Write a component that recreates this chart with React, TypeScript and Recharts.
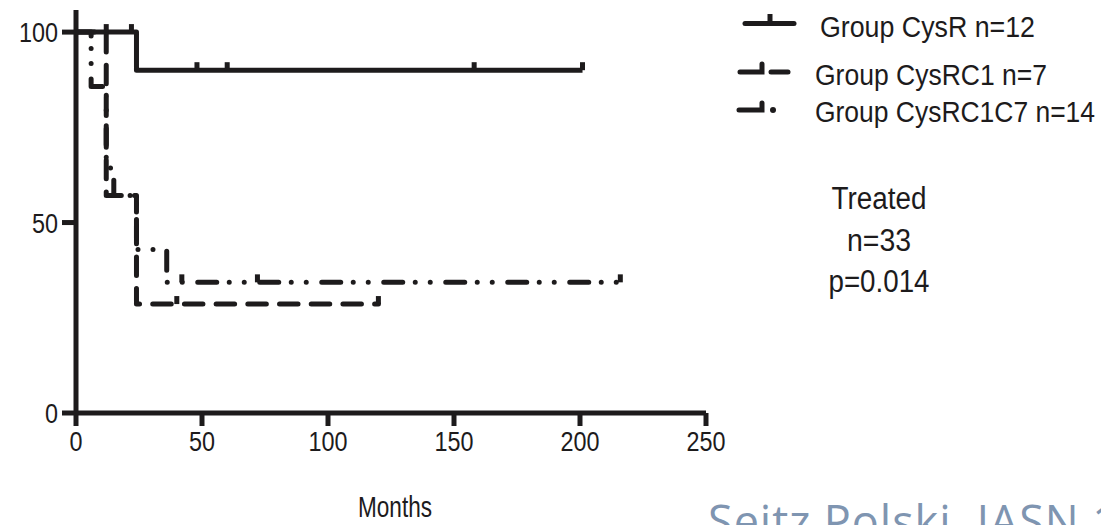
import React from 'react';
import { LineChart, Line, XAxis, YAxis, Legend } from 'recharts';

// ---- data ----
const xTicks = [0, 50, 100, 150, 200, 250];
const yTicks = [0, 50, 100];

const cysrTime = [0, 12, 22, 24, 48, 60, 158, 201];
const cysrSurv = [100, 100, 100, 90, 90, 90, 90, 90];
const cysrCens = [0, 1, 1, 0, 1, 1, 1, 1];

const rc1Time = [0, 12, 24, 40, 120];
const rc1Surv = [100, 57.1, 28.6, 28.6, 28.6];
const rc1Cens = [0, 0, 0, 1, 1];

const rc1c7Time = [0, 6, 12, 15, 24, 36, 42, 72, 216];
const rc1c7Surv = [100, 85.7, 64.3, 57.1, 42.9, 34.3, 34.3, 34.3, 34.3];
const rc1c7Cens = [0, 0, 0, 0, 0, 0, 1, 1, 1];

const seriesNames = ['Group CysR n=12', 'Group CysRC1 n=7', 'Group CysRC1C7 n=14'];
const annotationLines = ['Treated', 'n=33', 'p=0.014'];
const xLabel = 'Months';
const citation = 'Seitz Polski, JASN 1';

const build = (t: number[], s: number[], c: number[]) =>
  t.map((v, i) => ({ t: v, s: s[i], c: c[i] }));

const cysrData = build(cysrTime, cysrSurv, cysrCens);
const rc1Data = build(rc1Time, rc1Surv, rc1Cens);
const rc1c7Data = build(rc1c7Time, rc1c7Surv, rc1c7Cens);

const INK = '#1d1b1c';
const FONT = "'Liberation Sans', Arial, sans-serif";

// narrow-looking text (condensed via textLength)
const NText = ({ x, y, w, size, anchor = 'start', fill = INK, children }: any) => (
  <text
    x={x}
    y={y}
    fontFamily={FONT}
    fontSize={size}
    textAnchor={anchor}
    textLength={w}
    lengthAdjust="spacingAndGlyphs"
    fill={fill}
  >
    {children}
  </text>
);

const DIGIT_W = 13;

const XTick = (props: any) => {
  const { x, y, payload } = props;
  const s = String(payload.value);
  return <NText x={x} y={y + 20} w={s.length * DIGIT_W} size={28} anchor="middle">{s}</NText>;
};

const YTick = (props: any) => {
  const { x, y, payload } = props;
  const s = String(payload.value);
  return <NText x={x} y={y + 10} w={s.length * DIGIT_W} size={28} anchor="end">{s}</NText>;
};

const MonthsLabel = (props: any) => {
  const vb = props.viewBox || { x: 76, width: 630 };
  return <NText x={vb.x + vb.width / 2 + 4} y={517} w={74} size={30} anchor="middle">{xLabel}</NText>;
};

const censorDot = (prefix: string) => (props: any) => {
  const { cx, cy, payload, index } = props;
  if (!payload || !payload.c) return <g key={`${prefix}-${index}`} />;
  return (
    <line
      key={`${prefix}-${index}`}
      x1={cx}
      x2={cx}
      y1={cy}
      y2={cy - 8}
      stroke={INK}
      strokeWidth={5}
    />
  );
};

const legendWidths = [215, 232, 280];
const legendX = [820, 815, 815];
const legendY = [37, 85, 122];
const annoWidths = [95, 64, 101];

const LegendContent = () => (
  <svg width={1101} height={525} style={{ position: 'absolute', left: 0, top: 0 }}>
    {/* row 1 */}
    <line x1={745} x2={794} y1={23.5} y2={23.5} stroke={INK} strokeWidth={5} strokeLinecap="round" />
    <line x1={770} x2={770} y1={23.5} y2={14} stroke={INK} strokeWidth={5} />
    {/* row 2 */}
    <path d="M740,72 H762 V64" fill="none" stroke={INK} strokeWidth={5} strokeLinecap="round" />
    <line x1={771} x2={788} y1={72} y2={72} stroke={INK} strokeWidth={5} strokeLinecap="round" />
    {/* row 3 */}
    <path d="M739,110 H762 V103" fill="none" stroke={INK} strokeWidth={5} strokeLinecap="round" />
    <circle cx={773} cy={110} r={3} fill={INK} />
    {seriesNames.map((s, i) => (
      <NText key={s} x={legendX[i]} y={legendY[i]} w={legendWidths[i]} size={30}>{s}</NText>
    ))}
    {/* annotation */}
    {annotationLines.map((s, i) => (
      <NText key={s} x={879} y={209 + i * 41.5} w={annoWidths[i]} size={31} anchor="middle">{s}</NText>
    ))}
    <text
      x={708}
      y={538}
      fontFamily="'Open Sans', sans-serif"
      fontSize={45}
      textLength={410}
      lengthAdjust="spacing"
      fill="#7f95b1"
    >
      {citation}
    </text>
  </svg>
);

export default function App() {
  return (
    <div style={{ position: 'absolute', left: 0, top: 0, width: 1101, height: 525, background: '#fff', overflow: 'hidden' }}>
      <LineChart width={1101} height={525} margin={{ top: 10, right: 395, left: 16, bottom: 72 }}>
        <XAxis
          dataKey="t"
          type="number"
          domain={[0, 250]}
          ticks={xTicks}
          allowDuplicatedCategory={false}
          height={40}
          tickSize={13}
          tickMargin={5}
          axisLine={{ stroke: INK, strokeWidth: 5 }}
          tickLine={{ stroke: INK, strokeWidth: 5 }}
          tick={XTick}
          label={{ content: MonthsLabel }}
        />
        <YAxis
          type="number"
          domain={[0, 105.8]}
          ticks={yTicks}
          width={60}
          tickSize={14}
          tickMargin={4}
          axisLine={{ stroke: INK, strokeWidth: 5 }}
          tickLine={{ stroke: INK, strokeWidth: 5 }}
          tick={YTick}
        />
        <Line
          data={cysrData}
          dataKey="s"
          name={seriesNames[0]}
          type="stepAfter"
          stroke={INK}
          strokeWidth={5}
          strokeLinejoin="round"
          dot={censorDot('a')}
          activeDot={false}
          isAnimationActive={false}
        />
        <Line
          data={rc1Data}
          dataKey="s"
          name={seriesNames[1]}
          type="stepAfter"
          stroke={INK}
          strokeWidth={5}
          strokeLinecap="round"
          strokeLinejoin="round"
          strokeDasharray="18.5 13.2"
          dot={censorDot('b')}
          activeDot={false}
          isAnimationActive={false}
        />
        <Line
          data={rc1c7Data}
          dataKey="s"
          name={seriesNames[2]}
          type="stepAfter"
          stroke={INK}
          strokeWidth={5}
          strokeLinecap="round"
          strokeLinejoin="round"
          strokeDasharray="19 12.5 0 15 0 15.5"
          dot={censorDot('c')}
          activeDot={false}
          isAnimationActive={false}
        />
        <Legend
          layout="horizontal"
          verticalAlign="middle"
          align="center"
          content={() => <LegendContent />}
          wrapperStyle={{ position: 'absolute', left: 0, top: 0, width: 1101, height: 525, margin: 0, padding: 0, pointerEvents: 'none' }}
        />
      </LineChart>
    </div>
  );
}
